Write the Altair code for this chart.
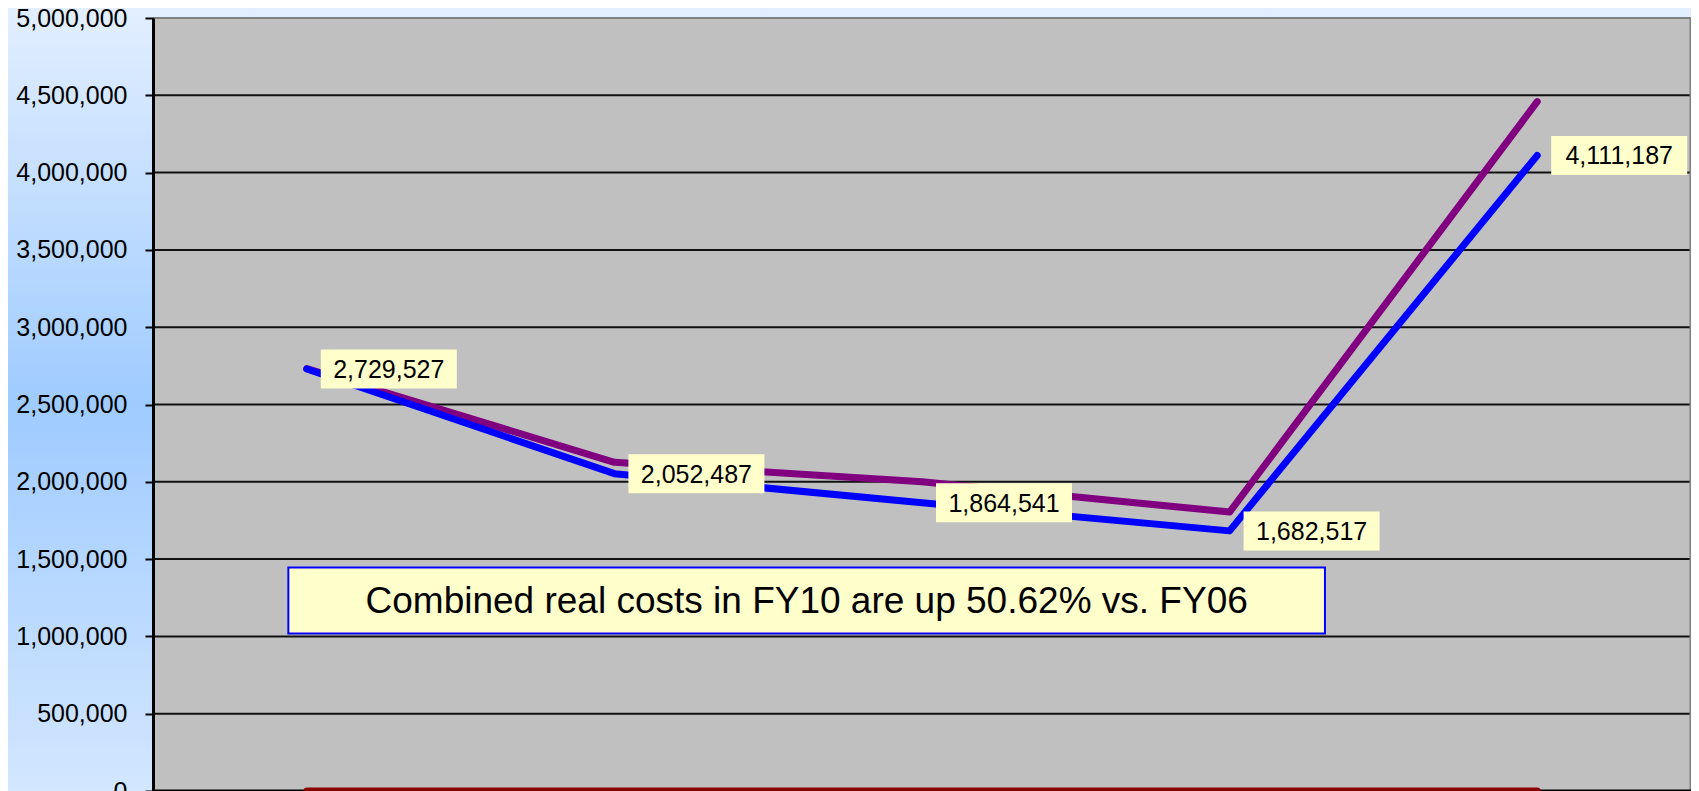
import altair as alt
import pandas as pd

categories = ["FY06", "FY07", "FY08", "FY09", "FY10"]
real_costs = [2729527, 2052487, 1864541, 1682517, 4111187]
nominal_costs = [2732000, 2126000, 2000000, 1804000, 4459000]
other_costs = [0, 0, 0, 0, 0]
y_ticks = [0, 500000, 1000000, 1500000, 2000000, 2500000, 3000000,
           3500000, 4000000, 4500000, 5000000]
grid_values = [500000, 1000000, 1500000, 2000000, 2500000, 3000000,
               3500000, 4000000, 4500000]
note_text = "Combined real costs in FY10 are up 50.62% vs. FY06"
note_x = [-0.06, 3.31]
note_y = [1018000, 1445000]

W, H = 1538, 773
FONT = "Liberation Sans"

idx = list(range(len(categories)))
real_df = pd.DataFrame({"cat": categories, "i": idx, "v": real_costs})
nom_df = pd.DataFrame({"cat": categories, "i": idx, "v": nominal_costs})
oth_df = pd.DataFrame({"cat": categories, "i": idx, "v": other_costs})
grid_df = pd.DataFrame({"v": grid_values})
one = pd.DataFrame({"a": [0]})
note_df = pd.DataFrame({"x1": [note_x[0]], "x2": [note_x[1]],
                        "y1": [note_y[0]], "y2": [note_y[1]],
                        "xc": [(note_x[0] + note_x[1]) / 2],
                        "yc": [(note_y[0] + note_y[1]) / 2],
                        "t": [note_text]})

xs = alt.Scale(domain=[-0.5, len(categories) - 0.5], nice=False, zero=False)
ys = alt.Scale(domain=[0, 5000000], nice=False)
Y_axis = alt.Axis(values=y_ticks, format=",d", title=None, grid=False,
                  labelFont=FONT, labelFontSize=25, labelColor="black",
                  labelPadding=18, tickSize=8, tickWidth=2, tickColor="black",
                  domainColor="black", domainWidth=3, zindex=1)
X = lambda f: alt.X(f, type="quantitative", scale=xs, axis=None)
Y = lambda f: alt.Y(f, type="quantitative", scale=ys, axis=Y_axis)

bg = alt.Chart(one).mark_rect(
    fill=alt.Gradient(gradient="linear", x1=0, y1=0, x2=0, y2=1,
                      stops=[alt.GradientStop(offset=0, color="#E3EFFF"),
                             alt.GradientStop(offset=0.5, color="#9FCBFF"),
                             alt.GradientStop(offset=1, color="#D4E7FF")])
).encode(x=alt.value(-150), x2=alt.value(W + 10), y=alt.value(-12), y2=alt.value(H + 10))

plotbg = alt.Chart(one).mark_rect(fill="#C0C0C0").encode(
    x=alt.value(0), x2=alt.value(W), y=alt.value(0), y2=alt.value(H))

grid = alt.Chart(grid_df).mark_rule(color="#111111", strokeWidth=2).encode(
    y=Y("v"), x=alt.value(0), x2=alt.value(W))

top_border = alt.Chart(one).mark_rule(color="#808080", strokeWidth=2).encode(
    y=alt.value(0), x=alt.value(0), x2=alt.value(W))
right_border = alt.Chart(one).mark_rule(color="#808080", strokeWidth=3).encode(
    x=alt.value(W), y=alt.value(0), y2=alt.value(H))
bottom_axis = alt.Chart(one).mark_rule(color="black", strokeWidth=3).encode(
    y=alt.value(H), x=alt.value(0), x2=alt.value(W))

def line(df, color):
    return alt.Chart(df).mark_line(color=color, strokeWidth=7, strokeCap="round",
                                   strokeJoin="round").encode(
        x=X("i"), y=Y("v"), order="i:Q")

other_line = line(oth_df, "#8B0000")
nom_line = line(nom_df, "#800080")
real_line = line(real_df, "#0000FF")

label_box = alt.Chart(real_df).mark_rect(
    fill="#FFFFCC", xOffset=14, x2Offset=150, yOffset=-19.5, y2Offset=19.5
).encode(x=X("i"), x2="i", y=Y("v"), y2="v")

label_text = alt.Chart(real_df).mark_text(
    font=FONT, fontSize=25, color="black", align="center", baseline="middle", dx=82, dy=1
).encode(x=X("i"), y=Y("v"), text=alt.Text("v:Q", format=",d"))

note_box = alt.Chart(note_df).mark_rect(fill="#FFFFCC", stroke="#0000FF", strokeWidth=2).encode(
    x=X("x1"), x2="x2", y=Y("y1"), y2="y2")
note_label = alt.Chart(note_df).mark_text(
    font=FONT, fontSize=37, color="black", align="center", baseline="middle", dy=1
).encode(x=X("xc"), y=Y("yc"), text="t:N")

chart = alt.layer(
    bg, plotbg, grid, top_border, right_border, bottom_axis,
    other_line, nom_line, real_line, label_box, label_text, note_box, note_label
).properties(
    width=W, height=H,
    autosize=alt.AutoSizeParams(type="none"),
    padding={"left": 145, "top": 10, "right": 0, "bottom": 0},
    background="#E3EFFF",
).configure_view(stroke=None)

chart.save("out.html", embed_options={"renderer": "svg", "actions": False})
